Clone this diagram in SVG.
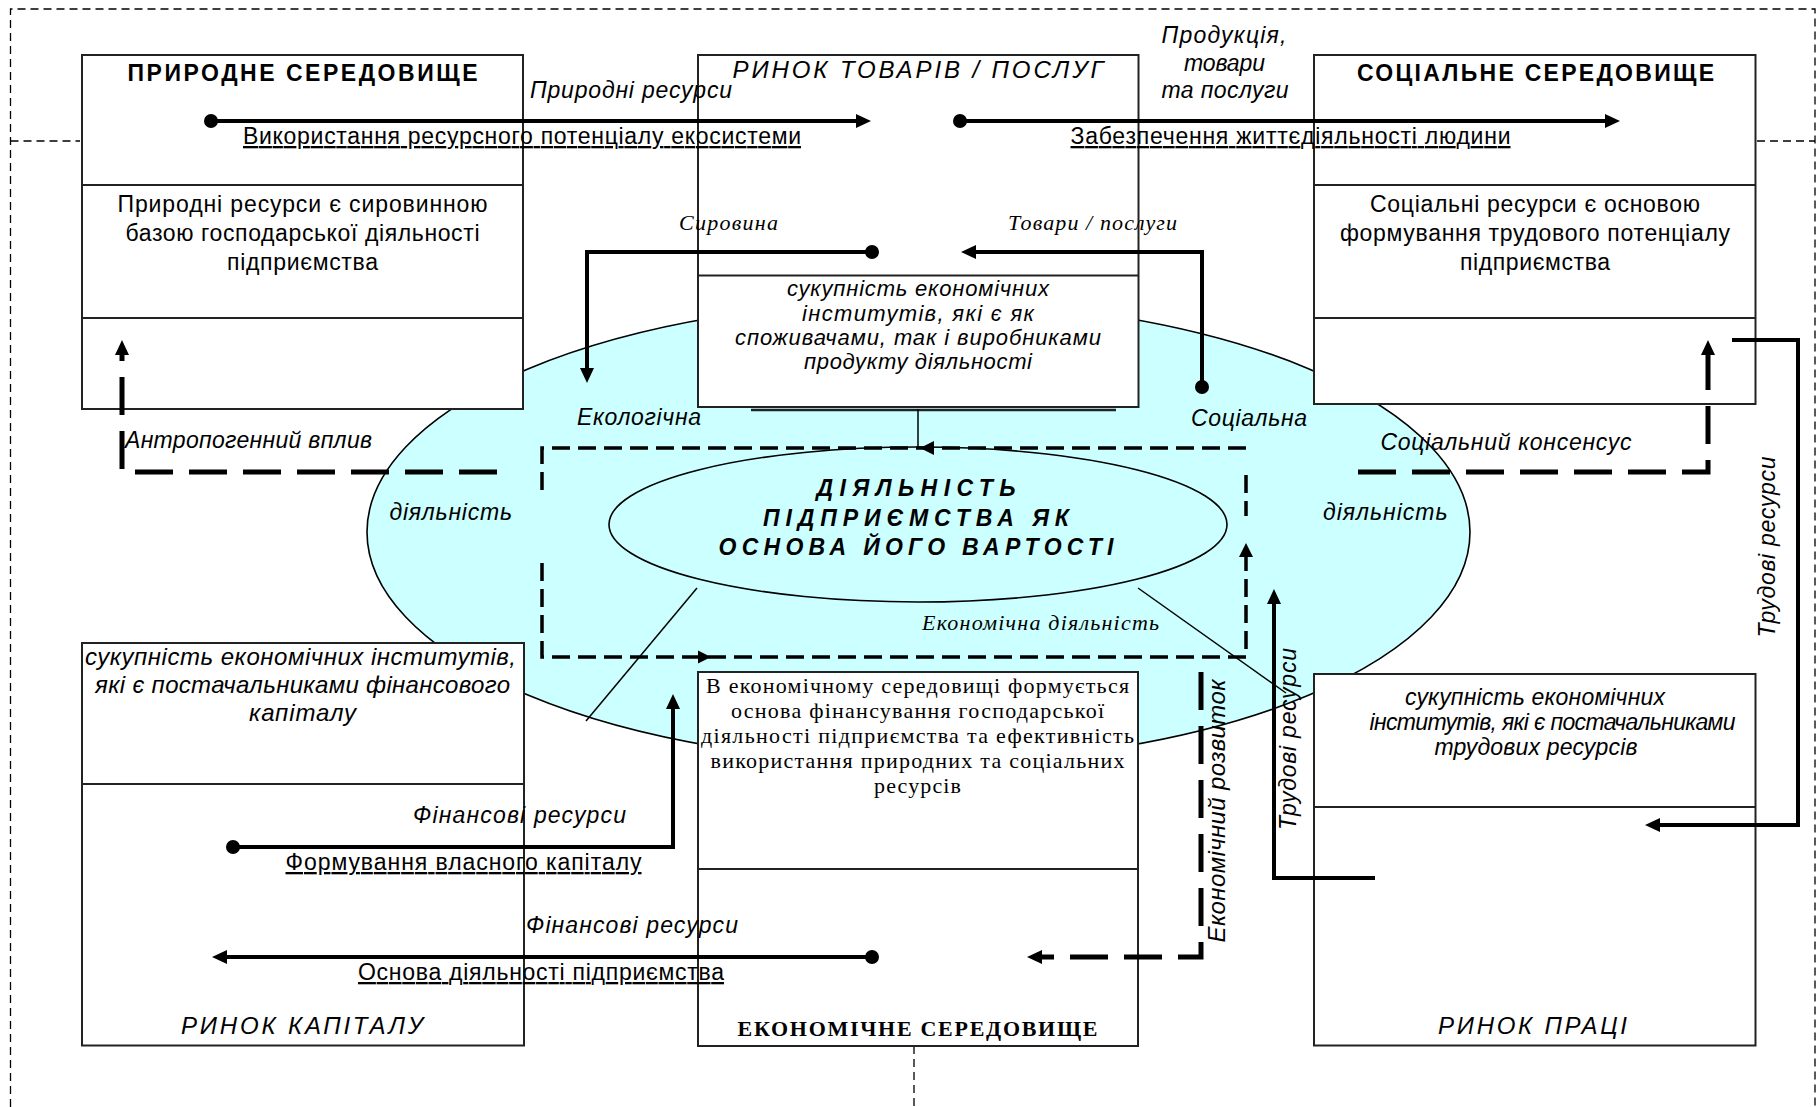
<svg xmlns="http://www.w3.org/2000/svg" width="1818" height="1107" viewBox="0 0 1818 1107">
<defs>
<style>
.bg{fill:#fff}
.box{fill:#fff;stroke:#222;stroke-width:2}
.div{stroke:#222;stroke-width:2;fill:none}
.frame{fill:none;stroke:#000;stroke-width:1.3;stroke-dasharray:8 5}
.conn{fill:none;stroke:#000;stroke-width:4}
.dthick{fill:none;stroke:#000;stroke-width:5;stroke-dasharray:38 16}
.dmid{fill:none;stroke:#000;stroke-width:3.5;stroke-dasharray:18 8}
.thin{fill:none;stroke:#000;stroke-width:1.5}
.ell{fill:#ccffff;stroke:#000;stroke-width:1.6}
text{font-family:"Liberation Sans",Arial,sans-serif;fill:#000}
.t21{font-size:23px}
.t20{font-size:22px}
.t22{font-size:24px}
.s21{font-size:22px}
.s22{font-size:22px}
.it{font-style:italic}
.b{font-weight:bold}
.ser{font-family:"Liberation Serif","Times New Roman",serif}
.u{text-decoration:underline}
.mid{text-anchor:middle}
</style>
<marker id="arr" markerUnits="userSpaceOnUse" markerWidth="16" markerHeight="15" refX="0" refY="7" orient="auto"><path d="M0,0 L15,7 L0,14 z" fill="#000"/></marker>
<marker id="dot" markerUnits="userSpaceOnUse" markerWidth="16" markerHeight="16" refX="8" refY="8"><circle cx="8" cy="8" r="7" fill="#000"/></marker>
</defs>
<rect class="bg" x="0" y="0" width="1818" height="1107"/>

<g id="frame">
<path class="frame" d="M10.5,1107 V9 H1815 V1107"/>
<path class="frame" d="M10.5,141 H80"/>
<path class="frame" d="M1757,141 H1815"/>
<path class="frame" d="M914,1046 V1107"/>
</g>

<g id="activity-field">
<ellipse class="ell" cx="918.5" cy="532" rx="551.5" ry="231"/>
<text class="t21 it" x="389.5" y="520" textLength="122.5">діяльність</text>
<text class="t21 it" x="1323" y="520" textLength="124.5">діяльність</text>
<text class="t21 it" x="577" y="425" textLength="124">Екологічна</text>
<text class="t21 it" x="1191" y="426" textLength="116">Соціальна</text>
<text class="s21 it ser" x="922" y="630" textLength="237">Економічна діяльність</text>
</g>

<g id="natural-env">
<rect class="box" x="82" y="55" width="441" height="354"/>
<line class="div" x1="82" y1="185" x2="523" y2="185"/>
<line class="div" x1="82" y1="318" x2="523" y2="318"/>
<text class="t21 b mid" x="302.5" y="81" textLength="350">ПРИРОДНЕ СЕРЕДОВИЩЕ</text>
<text class="t21 mid" x="302.5" y="212" textLength="370">Природні ресурси є сировинною</text>
<text class="t21 mid" x="302.5" y="241" textLength="354">базою господарської діяльності</text>
<text class="t21 mid" x="302.5" y="270" textLength="151">підприємства</text>
</g>

<g id="goods-market">
<rect class="box" x="698" y="55" width="440.5" height="352"/>
<line class="div" x1="698" y1="275.5" x2="1138.5" y2="275.5"/>
<line x1="751" y1="410" x2="1116" y2="410" stroke="#222" stroke-width="2.5"/>
<text class="t22 it mid" x="918" y="78" textLength="371">РИНОК ТОВАРІВ / ПОСЛУГ</text>
<text class="t20 it mid" x="918" y="296" textLength="262">сукупність економічних</text>
<text class="t20 it mid" x="918" y="320.5" textLength="232">інститутів, які є як</text>
<text class="t20 it mid" x="918" y="345" textLength="366">споживачами, так і виробниками</text>
<text class="t20 it mid" x="918" y="369" textLength="228">продукту діяльності</text>
</g>

<g id="social-env">
<rect class="box" x="1314" y="55" width="441.5" height="349"/>
<line class="div" x1="1314" y1="185" x2="1755.5" y2="185"/>
<line class="div" x1="1314" y1="318" x2="1755.5" y2="318"/>
<text class="t21 b mid" x="1535.5" y="81" textLength="357">СОЦІАЛЬНЕ СЕРЕДОВИЩЕ</text>
<text class="t21 mid" x="1535" y="212" textLength="330">Соціальні ресурси є основою</text>
<text class="t21 mid" x="1535" y="241" textLength="390">формування трудового потенціалу</text>
<text class="t21 mid" x="1535" y="270" textLength="150">підприємства</text>
</g>

<g id="capital-market">
<rect class="box" x="82" y="643" width="442" height="402.5"/>
<line class="div" x1="82" y1="784" x2="524" y2="784"/>
<text class="t22 it mid" x="300.5" y="665" textLength="431">сукупність економічних інститутів,</text>
<text class="t22 it mid" x="302.5" y="693" textLength="415">які є постачальниками фінансового</text>
<text class="t22 it mid" x="302.5" y="721" textLength="107">капіталу</text>
<text class="t22 it" x="181" y="1034" textLength="242">РИНОК КАПІТАЛУ</text>
</g>

<g id="economic-env">
<rect class="box" x="698" y="672" width="440" height="374"/>
<line class="div" x1="698" y1="869" x2="1138" y2="869"/>
<text class="s22 ser mid" x="917.5" y="693" textLength="423">В економічному середовищі формується</text>
<text class="s22 ser mid" x="917.5" y="718" textLength="373">основа фінансування господарської</text>
<text class="s22 ser mid" x="917.5" y="743" textLength="433">діяльності підприємства та ефективність</text>
<text class="s22 ser mid" x="917.5" y="768" textLength="414">використання природних та соціальних</text>
<text class="s22 ser mid" x="917.5" y="793" textLength="87">ресурсів</text>
<text class="s22 ser b mid" x="917.5" y="1036" textLength="360">ЕКОНОМІЧНЕ СЕРЕДОВИЩЕ</text>
</g>

<g id="labour-market">
<rect class="box" x="1314" y="674" width="441.5" height="371.5"/>
<line class="div" x1="1314" y1="807" x2="1755.5" y2="807"/>
<text class="t21 it mid" x="1535" y="705" textLength="260">сукупність економічних</text>
<text class="t21 it mid" x="1552.5" y="730" textLength="366">інститутів, які є постачальниками</text>
<text class="t21 it mid" x="1536" y="755" textLength="203">трудових ресурсів</text>
<text class="t22 it" x="1438" y="1034" textLength="189">РИНОК ПРАЦІ</text>
</g>

<g id="core">
<ellipse class="ell" cx="918" cy="524.5" rx="309" ry="77.5"/>
<text class="t21 it b mid" x="916" y="495.5" textLength="199">ДІЯЛЬНІСТЬ</text>
<text class="t21 it b mid" x="916" y="525.5" textLength="306">ПІДПРИЄМСТВА ЯК</text>
<text class="t21 it b mid" x="916" y="555" textLength="395">ОСНОВА ЙОГО ВАРТОСТІ</text>
</g>

<g id="connectors">
<path class="dmid" d="M1246,448 H542 V497"/>
<path class="dmid" d="M542,563 V657 H1246 V557"/>
<path class="dmid" d="M1246,475 V516"/>
<polygon points="920,448 934,441 934,455"/>
<polygon points="711,657 698,650.5 698,663.5"/>
<polygon points="1246,543 1239,557 1253,557"/>
<line class="thin" x1="918" y1="409" x2="918" y2="447"/>
<line class="thin" x1="697" y1="588" x2="586" y2="721"/>
<line class="thin" x1="1138" y1="588" x2="1286" y2="693"/>

<path class="conn" d="M211,121 H856" marker-start="url(#dot)" marker-end="url(#arr)"/>
<path class="conn" d="M960,121 H1605" marker-start="url(#dot)" marker-end="url(#arr)"/>
<path class="conn" d="M872,252 H587 V368" marker-start="url(#dot)" marker-end="url(#arr)"/>
<path class="conn" d="M1202,387 V252 H976" marker-start="url(#dot)" marker-end="url(#arr)"/>
<path class="conn" d="M1732,340 H1798 V825 H1660" marker-end="url(#arr)"/>
<path class="conn" d="M1375,878 H1274 V604" marker-end="url(#arr)"/>
<path class="conn" d="M233,847 H673 V709" marker-start="url(#dot)" marker-end="url(#arr)"/>
<path class="conn" d="M872,957 H227" marker-start="url(#dot)" marker-end="url(#arr)"/>
<path class="dthick" d="M497,472 H122 V355" marker-end="url(#arr)"/>
<path class="dthick" d="M1358,472 H1708 V355" marker-end="url(#arr)"/>
<path class="dthick" d="M1201,672 V957 H1042" marker-end="url(#arr)"/>
</g>

<g id="labels">
<text class="t21 it" x="530" y="98" textLength="202">Природні ресурси</text>
<text class="t21 u" x="243" y="144" textLength="558">Використання ресурсного потенціалу екосистеми</text>
<text class="t21 it mid" x="1224" y="43" textLength="125">Продукція,</text>
<text class="t21 it mid" x="1224.5" y="71" textLength="81">товари</text>
<text class="t21 it mid" x="1225" y="98" textLength="127">та послуги</text>
<text class="t21 u" x="1070.5" y="144" textLength="440">Забезпечення життєдіяльності людини</text>
<text class="s21 it ser" x="679" y="230" textLength="99">Сировина</text>
<text class="s21 it ser" x="1008" y="230" textLength="169">Товари / послуги</text>
<text class="t21 it" x="125" y="448" textLength="247">Антропогенний вплив</text>
<text class="t21 it" x="1380.5" y="450" textLength="251">Соціальний консенсус</text>
<text class="t21 it" x="413" y="823" textLength="213">Фінансові ресурси</text>
<text class="t21 u" x="285.5" y="870" textLength="356">Формування власного капіталу</text>
<text class="t21 it" x="526" y="933" textLength="212">Фінансові ресурси</text>
<text class="t21 u" x="358" y="980" textLength="366">Основа діяльності підприємства</text>
<text class="t21 it mid" transform="translate(1775,547) rotate(-90)" textLength="181">Трудові ресурси</text>
<text class="t21 it mid" transform="translate(1296,739) rotate(-90)" textLength="182">Трудові ресурси</text>
<text class="t22 it mid" transform="translate(1225,811) rotate(-90)" textLength="263">Економічний розвиток</text>
</g>
</svg>
